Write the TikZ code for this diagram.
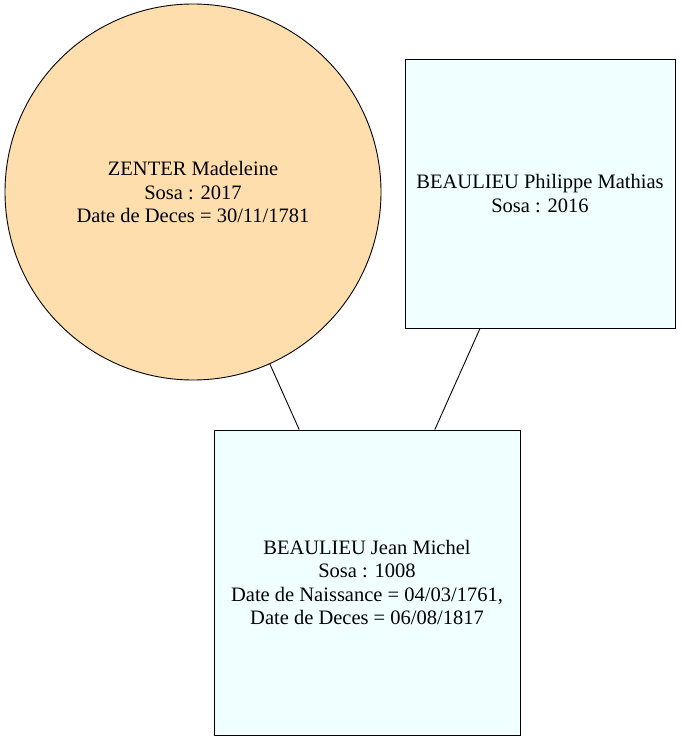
\documentclass[tikz,border=0pt]{standalone}
\usepackage{fontspec}
\setmainfont{Liberation Serif}
\definecolor{navajo}{HTML}{FFDEAD}
\definecolor{azurebox}{HTML}{F0FFFF}
\begin{document}
\begin{tikzpicture}[x=1pt,y=-1pt,
  person/.style={draw=black,line width=0.9pt,align=center,inner sep=0pt,font=\fontsize{20.5}{23.5}\selectfont},
  malebox/.style={person,rectangle,fill=azurebox},
  femalecirc/.style={person,circle,fill=navajo}]
\useasboundingbox (0,0) rectangle (681,741);
\node[femalecirc,minimum size=376pt] (z) at (193,192) {ZENTER Madeleine\\Sosa : 2017\\Date de Deces = 30/11/1781};
\node[malebox,minimum width=270pt,minimum height=269pt] (p) at (540,193.5) {BEAULIEU Philippe Mathias\\Sosa : 2016};
\node[malebox,minimum width=306pt,minimum height=305pt] (j) at (367,582.5) {BEAULIEU Jean Michel\\Sosa : 1008\\Date de Naissance = 04/03/1761,\\Date de Deces = 06/08/1817};
\draw[line width=0.9pt] (z) -- (j);
\draw[line width=0.9pt] (p) -- (j);
\end{tikzpicture}
\end{document}
